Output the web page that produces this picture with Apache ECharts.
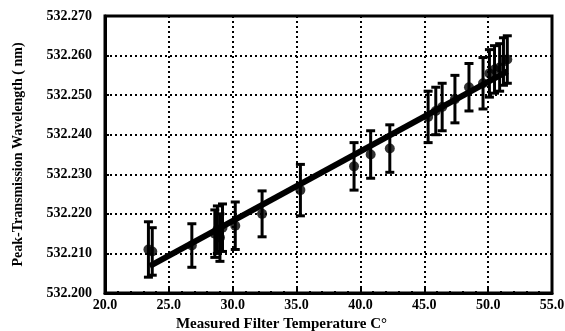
<!DOCTYPE html>
<html><head><meta charset="utf-8">
<script src="https://cdn.jsdelivr.net/npm/echarts@6/dist/echarts.min.js"></script>
<style>html,body{margin:0;padding:0;background:#fff}#c{width:565px;height:331px}</style>
</head><body><div id="c"></div>
<script>
const xTicks = [20, 25, 30, 35, 40, 45, 50, 55];
const yTicks = [532.200, 532.210, 532.220, 532.230, 532.240, 532.250, 532.260, 532.270];
const temps  = [23.4, 23.7, 26.8, 28.6, 28.8, 29.0, 29.2, 30.2, 32.3, 35.3, 39.5, 40.8, 42.3, 45.3, 45.9, 46.4, 47.4, 48.5, 49.6, 50.1, 50.5, 50.9, 51.2, 51.5];
const values = [532.2110, 532.2105, 532.2120, 532.2150, 532.2160, 532.2140, 532.2165, 532.2170, 532.2200, 532.2260, 532.2320, 532.2350, 532.2365, 532.2445, 532.2460, 532.2470, 532.2490, 532.2520, 532.2530, 532.2555, 532.2565, 532.2570, 532.2585, 532.2590];
const errors = [0.0070, 0.0060, 0.0055, 0.0060, 0.0060, 0.0060, 0.0060, 0.0060, 0.0058, 0.0065, 0.0060, 0.0060, 0.0060, 0.0065, 0.0060, 0.0060, 0.0060, 0.0060, 0.0065, 0.0060, 0.0060, 0.0060, 0.0060, 0.0060];
const fitT = [23.5, 51.5];
const fitV = [532.2068, 532.2560];

const font = '"Liberation Serif", "DejaVu Serif", serif';
const chart = echarts.init(document.getElementById('c'));
const pts = temps.map((t, i) => [t, values[i]]);
const bars = temps.map((t, i) => [t, values[i] - errors[i], values[i] + errors[i]]);

chart.setOption({
  animation: false,
  grid: {left: 105, right: 13, top: 16, bottom: 38, show: true, borderColor: '#000', borderWidth: 3,
    outerBoundsMode: 'none', containLabel: false},
  xAxis: {
    type: 'value', min: xTicks[0], max: xTicks[xTicks.length - 1], interval: 5,
    name: 'Measured Filter Temperature C°', nameLocation: 'middle', nameGap: 23,
    nameTextStyle: {color: '#000', fontFamily: font, fontWeight: 'bold', fontSize: 15, padding: [0, 94, 0, 0]},
    axisLine: {show: true, lineStyle: {color: '#000', width: 3}},
    axisTick: {show: true, inside: true, length: 5, lineStyle: {color: '#000', width: 2}},
    minorTick: {show: true, splitNumber: 5, length: 2, lineStyle: {color: '#000', width: 2}},
    axisLabel: {color: '#000', fontFamily: font, fontWeight: 'bold', fontSize: 14, margin: 5,
      formatter: v => v.toFixed(1)},
    splitLine: {show: true, lineStyle: {color: '#000', width: 2, type: [2, 3]}}
  },
  yAxis: {
    type: 'value', min: yTicks[0], max: yTicks[yTicks.length - 1], interval: 0.01,
    name: 'Peak-Transmission Wavelength ( nm)', nameLocation: 'middle', nameGap: 80,
    nameTextStyle: {color: '#000', fontFamily: font, fontWeight: 'bold', fontSize: 14},
    axisLine: {show: true, lineStyle: {color: '#000', width: 3}},
    axisTick: {show: true, inside: true, length: 4, lineStyle: {color: '#000', width: 2}},
    minorTick: {show: true, splitNumber: 10, length: 2, lineStyle: {color: '#000', width: 2}},
    axisLabel: {color: '#000', fontFamily: font, fontWeight: 'bold', fontSize: 14, margin: 13,
      formatter: v => v.toFixed(3)},
    splitLine: {show: true, lineStyle: {color: '#000', width: 2, type: [2, 3]}}
  },
  series: [
    {
      type: 'line', data: fitT.map((t, i) => [t, fitV[i]]), symbol: 'none',
      lineStyle: {color: '#000', width: 6}, z: 3
    },
    {
      type: 'custom', data: bars, z: 4,
      renderItem: (params, api) => {
        const x = api.value(0);
        const lo = api.coord([x, api.value(1)]);
        const hi = api.coord([x, api.value(2)]);
        const w = 4.5;
        const st = {stroke: '#000', lineWidth: 3};
        return {type: 'group', children: [
          {type: 'line', shape: {x1: lo[0], y1: lo[1], x2: hi[0], y2: hi[1]}, style: st},
          {type: 'line', shape: {x1: lo[0] - w, y1: lo[1], x2: lo[0] + w, y2: lo[1]}, style: st},
          {type: 'line', shape: {x1: hi[0] - w, y1: hi[1], x2: hi[0] + w, y2: hi[1]}, style: st}
        ]};
      }
    },
    {
      type: 'scatter', data: pts, symbol: 'circle', symbolSize: 10,
      itemStyle: {color: '#000'}, z: 5
    }
  ]
});
</script></body></html>
